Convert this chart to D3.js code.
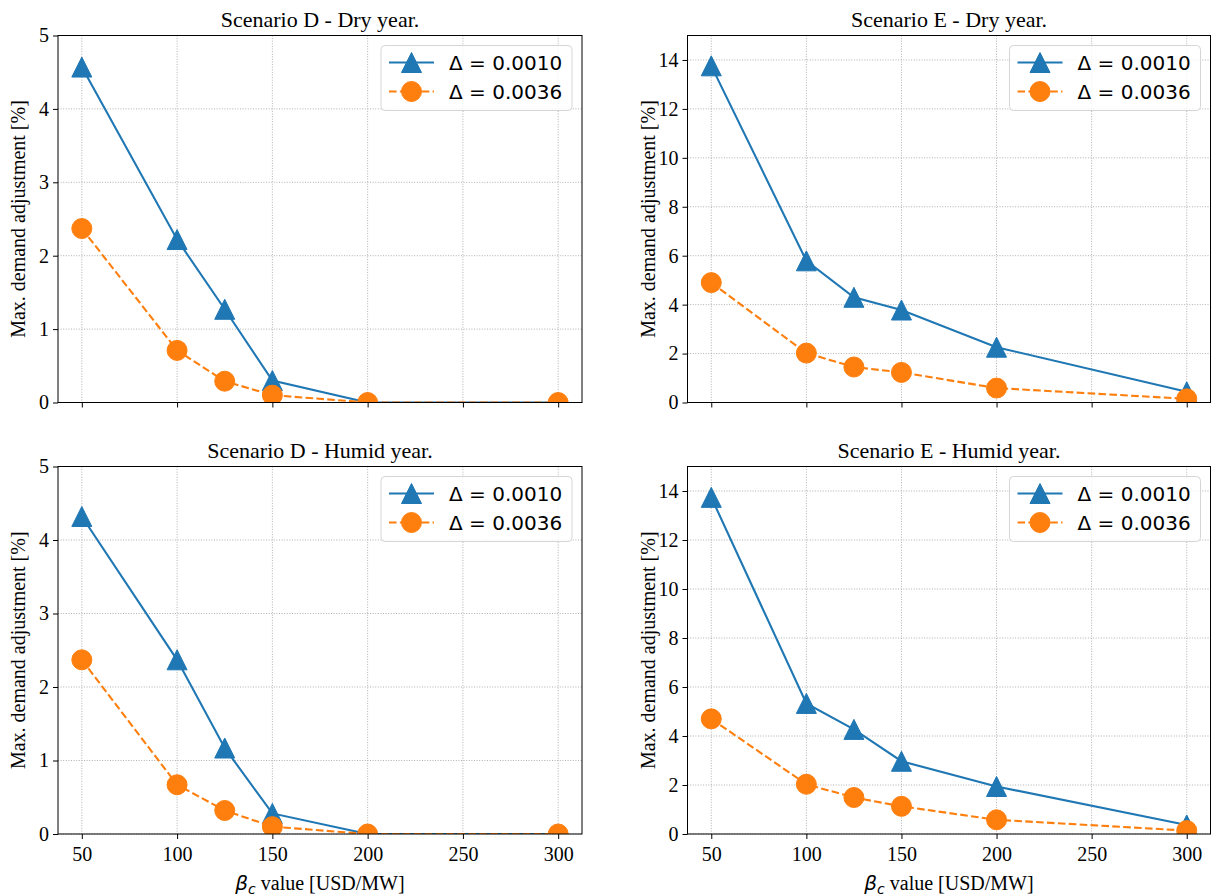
<!DOCTYPE html>
<html>
<head>
<meta charset="utf-8">
<script src="https://cdn.jsdelivr.net/npm/d3@7"></script>
<style>
  html, body { margin: 0; padding: 0; background: #fff; }
  svg { display: block; }
</style>
</head>
<body>
<svg id="chart" width="1215" height="896"></svg>
<script>
// β_c values tested (USD/MW)
const betaValues = [50, 100, 125, 150, 200, 300];
const xTicks = [50, 100, 150, 200, 250, 300];

// Maximum demand adjustment [%] per scenario and Δ
const dDryLow  = [4.57, 2.22, 1.27, 0.30, 0.00, 0.00];
const dDryHigh = [2.37, 0.71, 0.29, 0.10, 0.00, 0.00];
const eDryLow  = [13.76, 5.79, 4.30, 3.78, 2.26, 0.44];
const eDryHigh = [4.90, 2.02, 1.45, 1.23, 0.59, 0.15];
const dHumLow  = [4.32, 2.37, 1.17, 0.28, 0.00, 0.00];
const dHumHigh = [2.37, 0.67, 0.32, 0.10, 0.00, 0.00];
const eHumLow  = [13.74, 5.33, 4.27, 2.97, 1.94, 0.37];
const eHumHigh = [4.70, 2.03, 1.49, 1.13, 0.58, 0.14];

const seriesNames = ["\u0394 = 0.0010", "\u0394 = 0.0036"];
const dTicks = [0, 1, 2, 3, 4, 5];
const eTicks = [0, 2, 4, 6, 8, 10, 12, 14];

const panels = [
  { title: "Scenario D - Dry year.",   low: dDryLow, high: dDryHigh, yMax: 5,  yTicks: dTicks, col: 0, row: 0 },
  { title: "Scenario E - Dry year.",   low: eDryLow, high: eDryHigh, yMax: 15, yTicks: eTicks, col: 1, row: 0 },
  { title: "Scenario D - Humid year.", low: dHumLow, high: dHumHigh, yMax: 5,  yTicks: dTicks, col: 0, row: 1 },
  { title: "Scenario E - Humid year.", low: eHumLow, high: eHumHigh, yMax: 15, yTicks: eTicks, col: 1, row: 1 }
];

const BLUE = "#1f77b4", ORANGE = "#ff7f0e";
const SERIF = "'Liberation Serif', 'Times New Roman', serif";
const SANS = "'DejaVu Sans', sans-serif";

const colX = [[58, 582], [687.5, 1210.5]];
const rowY = [[35.5, 402.5], [466.5, 834]];

const svg = d3.select("#chart");
const MS = 10; // marker half-size
const LW = 2.1;

function triangle(g, x, y) {
  g.append("path")
    .attr("d", `M${x},${y - MS}L${x - MS},${y + MS}L${x + MS},${y + MS}Z`)
    .attr("fill", BLUE).attr("stroke", BLUE).attr("stroke-width", 1);
}
function circle(g, x, y) {
  g.append("circle").attr("cx", x).attr("cy", y).attr("r", MS)
    .attr("fill", ORANGE).attr("stroke", ORANGE).attr("stroke-width", 1);
}

panels.forEach(p => {
  const [x0, x1] = colX[p.col];
  const [y0, y1] = rowY[p.row];
  const x = d3.scaleLinear().domain([37.5, 312.5]).range([x0, x1]);
  const y = d3.scaleLinear().domain([0, p.yMax]).range([y1, y0]);
  const g = svg.append("g");

  // clip to axes area
  const clipId = `clip-${p.col}-${p.row}`;
  g.append("clipPath").attr("id", clipId)
    .append("rect").attr("x", x0).attr("y", y0).attr("width", x1 - x0).attr("height", y1 - y0);

  // grid
  const grid = g.append("g").attr("stroke", "#b0b0b0").attr("stroke-width", 1)
    .attr("stroke-dasharray", "1,1.6");
  xTicks.forEach(t => grid.append("line").attr("x1", x(t)).attr("x2", x(t)).attr("y1", y0).attr("y2", y1));
  p.yTicks.forEach(t => grid.append("line").attr("x1", x0).attr("x2", x1).attr("y1", y(t)).attr("y2", y(t)));

  // series
  const plot = g.append("g").attr("clip-path", `url(#${clipId})`);
  const line = d3.line().x((d, i) => x(betaValues[i])).y(d => y(d));
  plot.append("path").datum(p.low).attr("d", line)
    .attr("fill", "none").attr("stroke", BLUE).attr("stroke-width", LW);
  p.low.forEach((v, i) => triangle(plot, x(betaValues[i]), y(v)));
  plot.append("path").datum(p.high).attr("d", line)
    .attr("fill", "none").attr("stroke", ORANGE).attr("stroke-width", LW)
    .attr("stroke-dasharray", "7.6,3.3");
  p.high.forEach((v, i) => circle(plot, x(betaValues[i]), y(v)));

  // axes
  const xAxis = d3.axisBottom(x).tickValues(xTicks).tickSize(5).tickPadding(5)
    .tickFormat(p.row === 1 ? d3.format("d") : () => "");
  const yAxis = d3.axisLeft(y).tickValues(p.yTicks).tickSize(5).tickPadding(4).tickFormat(d3.format("d"));
  const xa = g.append("g").attr("transform", `translate(0,${y1})`).call(xAxis);
  const ya = g.append("g").attr("transform", `translate(${x0},0)`).call(yAxis);
  [xa, ya].forEach(a => {
    a.select(".domain").remove();
    a.selectAll(".tick line").attr("stroke", "#000").attr("stroke-width", 1);
    a.selectAll(".tick text").attr("fill", "#000").style("font-family", SERIF).style("font-size", "20px");
  });
  xa.selectAll(".tick text").attr("dy", "0.85em");

  // frame
  g.append("rect").attr("x", x0).attr("y", y0).attr("width", x1 - x0).attr("height", y1 - y0)
    .attr("fill", "none").attr("stroke", "#000").attr("stroke-width", 1);

  // title
  g.append("text").attr("x", (x0 + x1) / 2).attr("y", y0 - 9)
    .attr("text-anchor", "middle").style("font-family", SERIF).style("font-size", "22px")
    .text(p.title);

  // y label
  g.append("text")
    .attr("transform", `translate(${x0 - 33},${(y0 + y1) / 2}) rotate(-90)`)
    .attr("text-anchor", "middle").style("font-family", SERIF).style("font-size", "20px")
    .text("Max. demand adjustment [%]");

  // x label
  if (p.row === 1) {
    const xl = g.append("text").attr("x", (x0 + x1) / 2).attr("y", y1 + 56)
      .attr("text-anchor", "middle").style("font-family", SERIF).style("font-size", "20px");
    xl.append("tspan").style("font-style", "italic").style("font-family", SANS).text("\u03b2");
    xl.append("tspan").style("font-style", "italic").style("font-family", SANS)
      .style("font-size", "14px").attr("dy", 4).text("c");
    xl.append("tspan").attr("dy", -4).text(" value [USD/MW]");
  }

  // legend
  const lw = 191, lh = 65;
  const lx = x1 - 10 - lw, ly = y0 + 10;
  const leg = g.append("g");
  leg.append("rect").attr("x", lx).attr("y", ly).attr("width", lw).attr("height", lh)
    .attr("rx", 4).attr("fill", "#fff").attr("fill-opacity", 0.8)
    .attr("stroke", "#d5d5d5").attr("stroke-width", 1);
  [0, 1].forEach(k => {
    const cy = ly + 17 + k * 29;
    const hx0 = lx + 8, hx1 = lx + 53, hm = (hx0 + hx1) / 2;
    const ln = leg.append("line").attr("x1", hx0).attr("x2", hx1).attr("y1", cy).attr("y2", cy)
      .attr("stroke", k === 0 ? BLUE : ORANGE).attr("stroke-width", LW);
    if (k === 1) ln.attr("stroke-dasharray", "7.6,3.3");
    if (k === 0) triangle(leg, hm, cy); else circle(leg, hm, cy);
    leg.append("text").attr("x", lx + 68).attr("y", cy).attr("dy", "0.35em")
      .style("font-family", SANS).style("font-size", "20px").attr("fill", "#000")
      .text(seriesNames[k]);
  });
});
</script>
</body>
</html>
